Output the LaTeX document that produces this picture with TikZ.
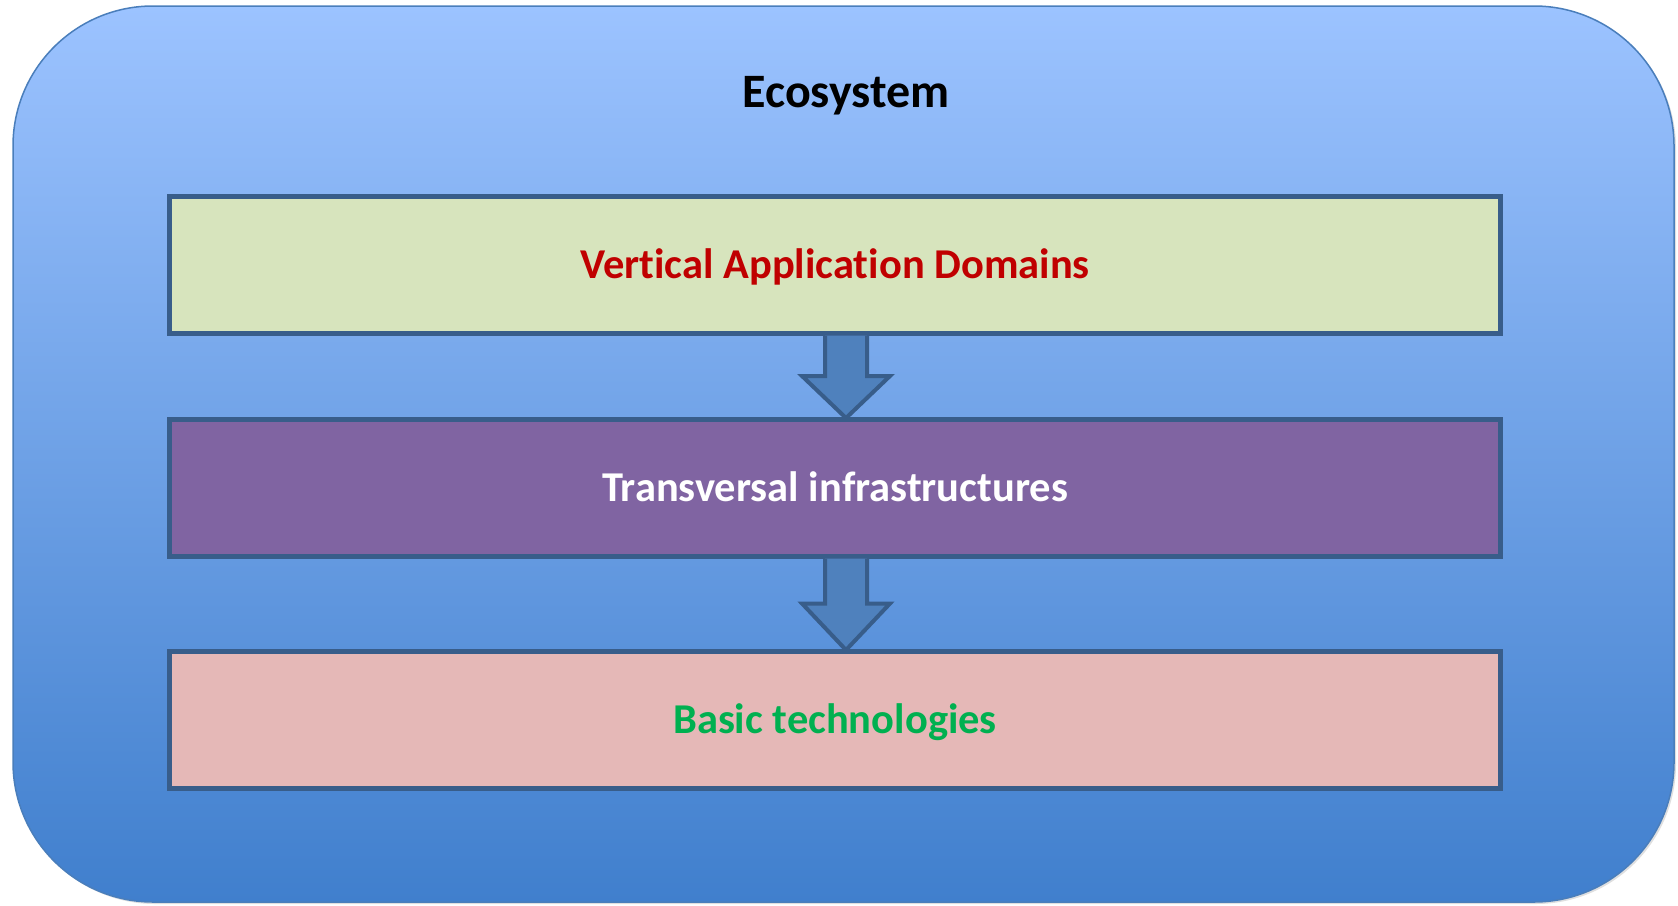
\documentclass[tikz,border=0pt]{standalone}
\usepackage{fontspec}
\setmainfont{Carlito}[Ligatures=NoCommon]
\usetikzlibrary{calc,positioning,shadows}
\definecolor{skytop}{RGB}{156,195,255}
\definecolor{skybot}{RGB}{64,127,205}
\definecolor{skyrim}{RGB}{74,126,187}
\definecolor{layerrim}{RGB}{56,93,138}
\definecolor{arrowfill}{RGB}{79,129,189}
\definecolor{domfill}{RGB}{215,228,189}
\definecolor{infrafill}{RGB}{128,100,162}
\definecolor{techfill}{RGB}{229,184,183}
\definecolor{domtext}{RGB}{192,0,0}
\definecolor{techtext}{RGB}{0,176,80}
\newcommand\flow[2]{%
  % fat arrow from the bottom edge of #1 to the top edge of #2, under the title
  \filldraw[flow] let \p1=(title |- #1.south), \p2=(title |- #2.north),
      \n1={(\y1+\y2)/2} in
    (\x1-21pt,\y1-2.5pt) -- (\x1-21pt,\n1) -- (\x1-44pt,\n1) -- (\x2,\y2+1pt)
    -- (\x1+44pt,\n1) -- (\x1+21pt,\n1) -- (\x1+21pt,\y1-2.5pt);
}

\begin{document}
\begin{tikzpicture}[
    x=1pt, y=-1pt,
    frame/.style={draw=skyrim, line width=1.5pt, rounded corners=140pt,
      top color=skytop, bottom color=skybot, minimum width=1661pt, minimum height=896pt,
      drop shadow={opacity=0.25, shadow xshift=2pt, shadow yshift=-2pt}},
    title/.style={font=\fontsize{48}{54}\selectfont\bfseries, inner sep=0pt, anchor=base},
    layer/.style={draw=layerrim, line width=5pt, outer sep=0pt, inner sep=0pt,
      minimum width=1331pt, minimum height=137pt,
      font=\fontsize{42.5}{48}\selectfont\bfseries, text height=27pt, text depth=0pt},
    flow/.style={draw=layerrim, fill=arrowfill, line width=4pt, line join=miter},
  ]
  \useasboundingbox (0,0) rectangle (1678,905);

  % ------------------------------------------------------------------ frame
  \node[frame] (eco) at (843.5,454) {};
  \node[title] (title) at (846,107) {Ecosystem};

  % ------------------------------------------------------------------ layers
  \node[layer, fill=domfill, text=domtext] (vad) at (835,264.5) {Vertical Application Domains};
  \node[layer, fill=infrafill, text=white, below=86pt of vad] (ti) {Transversal infrastructures};
  \node[layer, fill=techfill, text=techtext, below=95pt of ti] (bt) {Basic technologies};

  \flow{vad}{ti}
  \flow{ti}{bt}

\end{tikzpicture}
\end{document}
